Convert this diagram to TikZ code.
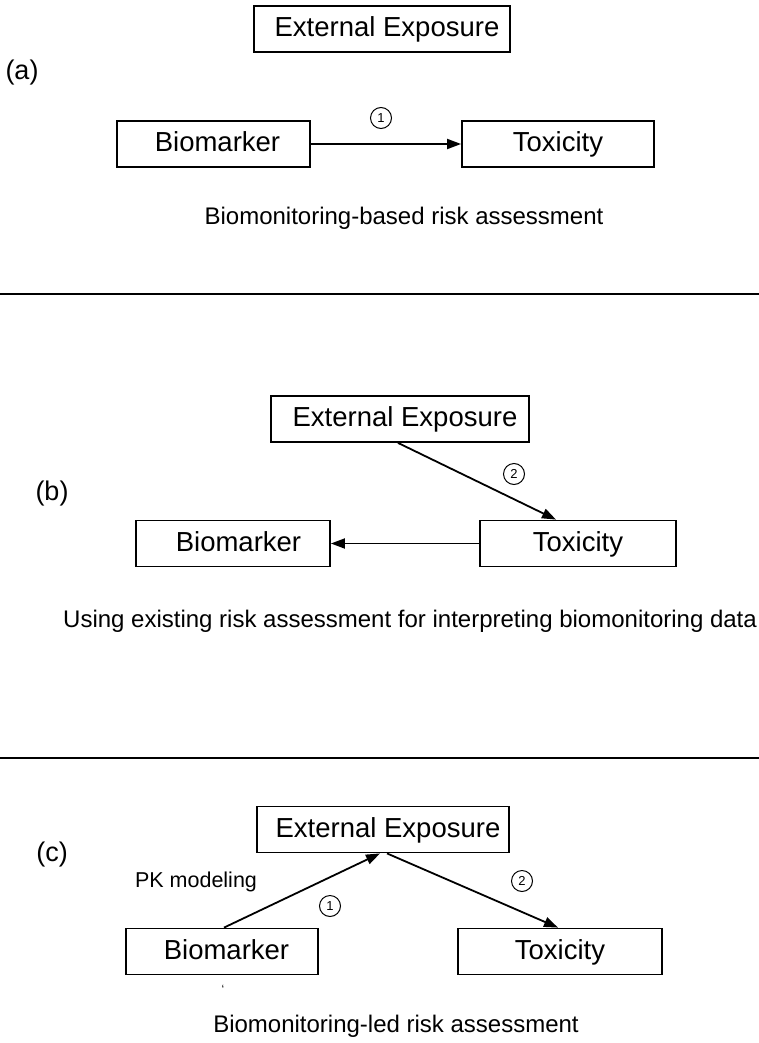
\documentclass[tikz,border=0pt]{standalone}
\usepackage{fontspec}
\setmainfont{Liberation Sans}
\usetikzlibrary{arrows.meta}
\tikzset{
  box/.style={draw, line width=1.8pt, minimum height=46pt, inner sep=0pt, text height=20pt, text depth=5pt, font=\fontsize{27.5}{30}\selectfont},
  conn/.style={line width=1.8pt, -{Triangle[length=14pt,width=10pt]}},
  num/.style={draw, circle, line width=1pt, minimum size=21pt, inner sep=0pt, font=\fontsize{13}{14}\selectfont},
  caption/.style={font=\fontsize{24}{27}\selectfont, inner sep=0pt},
  tag/.style={font=\fontsize{27}{30}\selectfont, inner sep=0pt},
  sep/.style={line width=1.8pt}
}
\begin{document}
\begin{tikzpicture}[x=1pt,y=-1pt]
\useasboundingbox (0,0) rectangle (759,1043);
% (a)
\node[tag] (tagA) at (22,73) {(a)};
\node[box, minimum width=256pt] (eeA) at (382,29) {\hspace{10pt}External Exposure};
\node[box, minimum width=193pt] (bmA) at (213.5,144) {\hspace{8pt}Biomarker};
\node[box, minimum width=192pt] (txA) at (558,144) {Toxicity};
\draw[conn] (bmA.east) -- (txA.west);
\node[num] (n1A) at (381,118) {1};
\node[caption] (capA) at (404,218) {Biomonitoring-based risk assessment};
\coordinate (sAl) at (0,294);
\coordinate (sAr) at (759,294);
\draw[sep] (sAl) -- (sAr);
% (b)
\node[tag] (tagB) at (52,494) {(b)};
\node[box, minimum width=258pt] (eeB) at (400,419) {\hspace{10pt}External Exposure};
\node[box, minimum width=194pt] (bmB) at (233,543.5) {\hspace{11pt}Biomarker};
\node[box, minimum width=196pt] (txB) at (578,543.5) {Toxicity};
\draw[conn] ([xshift=-2pt]eeB.south) -- ([xshift=-22pt]txB.north);
\draw[conn] (txB.west) -- (bmB.east);
\node[num] (n2B) at (514,474) {2};
\node[caption, anchor=west] (capB) at (63,621) {Using existing risk assessment for interpreting biomonitoring data};
\coordinate (sBl) at (0,758);
\coordinate (sBr) at (759,758);
\draw[sep] (sBl) -- (sBr);
% (c)
\node[tag] (tagC) at (52,855) {(c)};
\node[box, minimum width=252pt] (eeC) at (383,829.5) {\hspace{10pt}External Exposure};
\node[box, minimum width=192pt] (bmC) at (222,951.5) {\hspace{9pt}Biomarker};
\node[box, minimum width=204pt] (txC) at (560,951.5) {Toxicity};
\draw[conn] ([xshift=2pt]bmC.north) -- ([xshift=-3pt]eeC.south);
\draw[conn] ([xshift=4pt]eeC.south) -- ([xshift=-2pt]txC.north);
\node[font=\fontsize{21.5}{24}\selectfont, inner sep=0pt] (pk) at (196,882) {PK modeling};
\node[num] (n1C) at (330,906) {1};
\node[num] (n2C) at (522,881) {2};
\node[font=\fontsize{12}{12}\selectfont, inner sep=0pt] (tick) at (223,989) {`};
\node[caption] (capC) at (396,1026) {Biomonitoring-led risk assessment};
\end{tikzpicture}
\end{document}
